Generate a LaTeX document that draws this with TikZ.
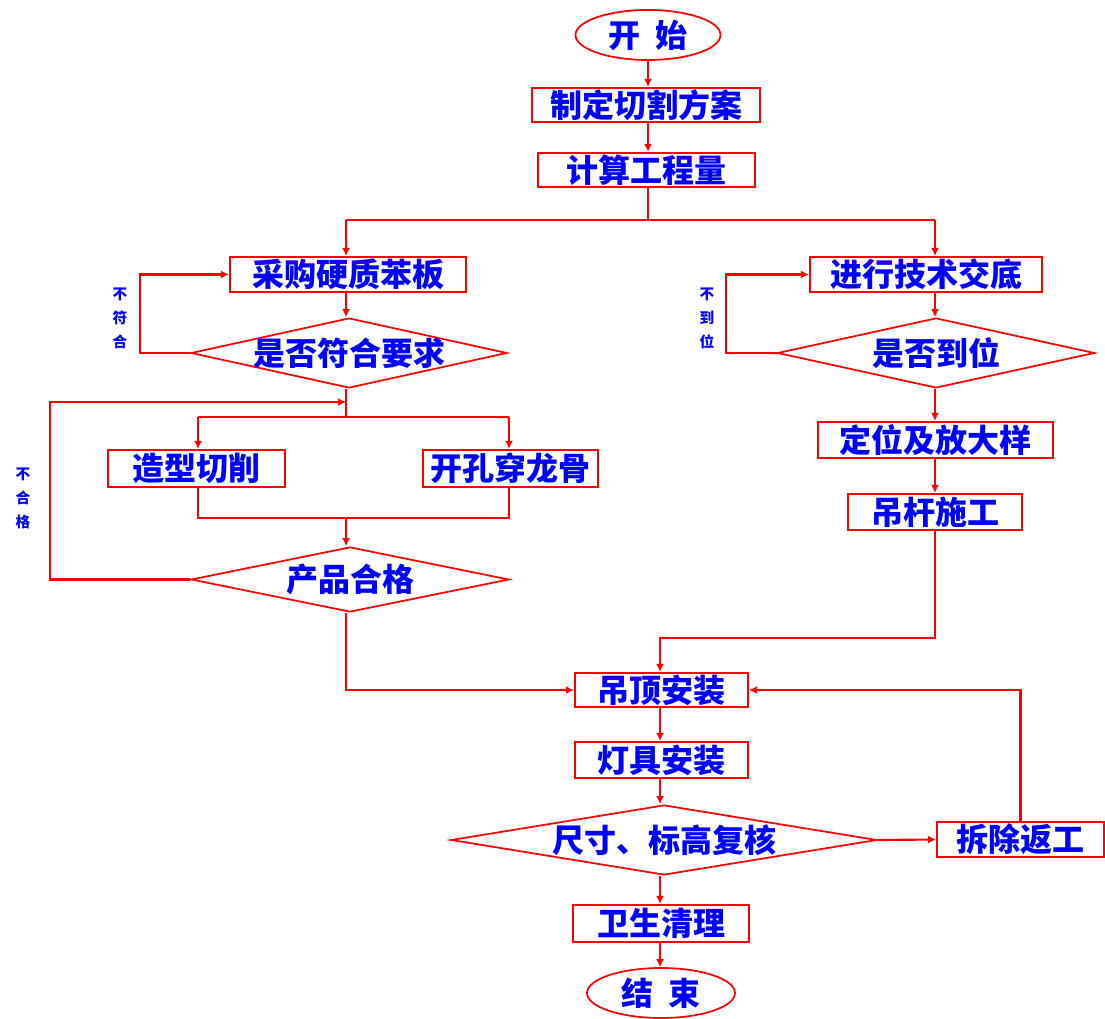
\documentclass[tikz,border=0pt]{standalone}
\usepackage{fontspec}
\newfontfamily\cjk{Noto Sans CJK SC}
\usetikzlibrary{shapes.geometric,arrows.meta}
\begin{document}
\begin{tikzpicture}[x=0.75pt,y=-0.75pt,
  line/.style={draw=red, line width=1.6pt},
  arr/.style={line, -{Latex[length=6pt,width=6pt]}},
  txt/.style={text=blue, font=\cjk\bfseries\fontsize{24}{24}\selectfont, inner sep=0pt},
  box/.style={draw=red, line width=1.6pt, rectangle, inner sep=0pt, txt},
  dia/.style={draw=red, line width=1.3pt, diamond, inner sep=0pt},
  ell/.style={draw=red, line width=1.3pt, ellipse, inner sep=0pt, txt},
  lab/.style={text=blue, font=\cjk\bfseries\fontsize{11}{18}\selectfont, align=center, inner sep=0pt}]
\useasboundingbox[fill=white] (0,0) rectangle (1105,1019);

% nodes
\node[ell, minimum width=108.75pt, minimum height=37.5pt] (start) at (648,35) {开\hspace{0.45em}始};
\node[box, minimum width=171pt, minimum height=25.5pt] (plan) at (646,105) {制定切割方案};
\node[box, minimum width=162.75pt, minimum height=25.5pt] (calc) at (646.5,170) {计算工程量};
\node[box, minimum width=177pt, minimum height=26.25pt] (buy) at (348,274.5) {采购硬质苯板};
\node[box, minimum width=174pt, minimum height=26.25pt] (tech) at (926,274.5) {进行技术交底};
\node[dia, minimum width=237pt, minimum height=52.5pt] (q1) at (349,353) {};
\node[txt] at (q1) {是否符合要求};
\node[dia, minimum width=237.75pt, minimum height=52.5pt] (q2) at (936,353) {};
\node[txt] at (q2) {是否到位};
\node[box, minimum width=132.75pt, minimum height=27.75pt] (cut) at (196.5,468.5) {造型切削};
\node[box, minimum width=131.25pt, minimum height=27.75pt] (hole) at (510.5,468.5) {开孔穿龙骨};
\node[dia, minimum width=238.5pt, minimum height=48.75pt] (q3) at (350,579.5) {};
\node[txt] at (q3) {产品合格};
\node[box, minimum width=176.25pt, minimum height=27pt] (pos) at (935.5,440) {定位及放大样};
\node[box, minimum width=130.5pt, minimum height=27pt] (rod) at (935,512) {吊杆施工};
\node[box, minimum width=129.75pt, minimum height=25.5pt] (hang) at (661.5,690) {吊顶安装};
\node[box, minimum width=129.75pt, minimum height=27pt] (lamp) at (661.5,760) {灯具安装};
\node[dia, minimum width=319.5pt, minimum height=52.5pt] (q4) at (664,840) {};
\node[txt] at (q4) {尺寸、标高复核};
\node[box, minimum width=125.25pt, minimum height=26.25pt] (redo) at (1020.5,839.5) {拆除返工};
\node[box, minimum width=132pt, minimum height=27.75pt] (clean) at (661,923.5) {卫生清理};
\node[ell, minimum width=111pt, minimum height=37.5pt] (end) at (661,993) {结\hspace{0.45em}束};

% side labels
\node[lab] (l1) at (120,318) {不\\符\\合};
\node[lab] (l2) at (707,318) {不\\到\\位};
\node[lab] (l3) at (23,498) {不\\合\\格};

% coordinates
\coordinate (cL) at (346,220);
\coordinate (cR) at (935,220);
\coordinate (j1) at (346,402);
\coordinate (j2) at (346,417);
\coordinate (sL) at (198,417);
\coordinate (sR) at (509,417);
\coordinate (mL) at (198,518);
\coordinate (mR) at (509,518);
\coordinate (mC) at (346,518);
\coordinate (lp) at (50,402);
\coordinate (b2) at (660,638);

% connectors
\draw[arr] (start.south) -- (start.south |- plan.north);
\draw[arr] (plan.south -| start) -- (calc.north -| start);
\draw[line] (calc.south -| start) -- (start |- cL);
\draw[line] (cL) -- (cR);
\draw[arr] (cL) -- (cL |- buy.north);
\draw[arr] (cR) -- (cR |- tech.north);
\draw[arr] (buy.south -| cL) -- (q1.north -| cL);
\draw[arr] (q1.west) -- ++(-50,0) |- (buy.west);
\draw[arr] (tech.south -| cR) -- (q2.north -| cR);
\draw[arr] (q2.west) -- ++(-51,0) |- (tech.west);
\draw[line] (q1.south -| cL) -- (j2);
\draw[line] (sL) -- (sR);
\draw[arr] (sL) -- (sL |- cut.north);
\draw[arr] (sR) -- (sR |- hole.north);
\draw[line] (cut.south -| sL) -- (mL) -- (mR) -- (hole.south -| sR);
\draw[arr] (mC) -- (q3.north -| mC);
\draw[arr] (q3.west) -| (lp) -- (j1);
\draw[arr] (q3.south -| cL) |- (hang.west);
\draw[arr] (q2.south -| cR) -- (pos.north -| cR);
\draw[arr] (pos.south -| cR) -- (rod.north -| cR);
\draw[arr] (rod.south -| cR) |- (b2) -- (b2 |- hang.north);
\draw[arr] (hang.south -| b2) -- (lamp.north -| b2);
\draw[arr] (lamp.south -| b2) -- (q4.north -| b2);
\draw[arr] (q4.east) -- (redo.west);
\draw[arr] (redo.north) |- (hang.east);
\draw[arr] (q4.south -| b2) -- (clean.north -| b2);
\draw[arr] (clean.south -| b2) -- (end.north -| b2);
\end{tikzpicture}
\end{document}
